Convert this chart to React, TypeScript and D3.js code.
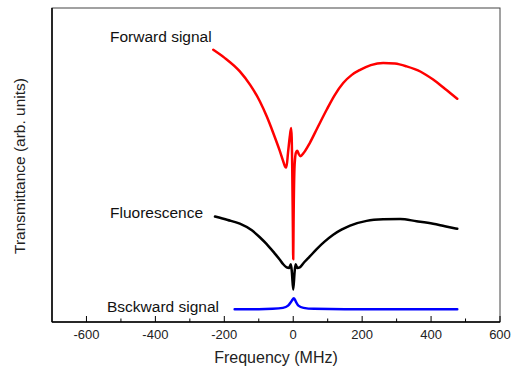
import React from 'react';
import * as d3 from 'd3';

// Frequency (MHz) / transmittance (arb. units)
const forwardFreq = [-232, -200, -155, -125, -97, -77, -58, -40, -30, -24, -20, -15, -10, -6, -3, -1, 0, 1, 4, 8, 12, 16, 21, 30, 48, 70, 97, 120, 145, 170, 194, 225, 261, 295, 329, 370, 406, 440, 476];
const forwardVal = [8.67, 8.42, 7.98, 7.55, 7.03, 6.55, 6.02, 5.48, 5.15, 4.96, 4.92, 5.4, 5.9, 6.18, 5.0, 3.0, 2.0, 3.2, 5.0, 5.4, 5.45, 5.35, 5.28, 5.38, 5.7, 6.18, 6.76, 7.22, 7.61, 7.87, 8.03, 8.18, 8.25, 8.23, 8.14, 7.97, 7.72, 7.43, 7.11];

const fluorFreq = [-227, -190, -155, -120, -97, -77, -55, -40, -29, -19, -12, -7, -4, 0, 4, 7, 12, 19, 30, 45, 68, 90, 116, 140, 165, 213, 261, 310, 358, 406, 440, 476];
const fluorVal = [3.36, 3.25, 3.13, 2.92, 2.7, 2.48, 2.2, 2.0, 1.84, 1.74, 1.72, 1.84, 1.6, 1.03, 1.6, 1.84, 1.72, 1.74, 1.88, 2.05, 2.32, 2.55, 2.78, 2.94, 3.07, 3.22, 3.27, 3.28, 3.21, 3.13, 3.05, 2.97];

const backFreq = [-170, -100, -60, -30, -15, -5, 2, 8, 15, 30, 60, 150, 300, 476];
const backVal = [0.41, 0.41, 0.42, 0.45, 0.52, 0.66, 0.76, 0.64, 0.52, 0.45, 0.42, 0.41, 0.41, 0.41];

const majorTicks = [-600, -400, -200, 0, 200, 400, 600];
const minorTicks = [-500, -300, -100, 100, 300, 500];

const series = [
  { name: 'Forward signal', color: '#ff0000', freq: forwardFreq, val: forwardVal, lx: 110, ly: 42 },
  { name: 'Fluorescence', color: '#000000', freq: fluorFreq, val: fluorVal, lx: 110, ly: 218 },
  { name: 'Bsckward signal', color: '#0000ff', freq: backFreq, val: backVal, lx: 107, ly: 312 },
];

const W = 514;
const H = 369;
const m = { left: 52, right: 14, top: 8, bottom: 47 };
const font = 'Liberation Sans, Arial, sans-serif';

const App: React.FC = () => {
  const x = d3.scaleLinear().domain([-700, 600]).range([m.left, W - m.right]);
  const y = d3.scaleLinear().domain([0, 10]).range([H - m.bottom, m.top]);
  const bottom = H - m.bottom;

  const line = d3.line<[number, number]>()
    .x(d => x(d[0]))
    .y(d => y(d[1]))
    .curve(d3.curveMonotoneX);

  return (
    <div style={{ position: 'fixed', left: 0, top: 0 }}>
      <svg width={W} height={H} style={{ display: 'block', background: '#fff' }}>
        <rect x={m.left} y={m.top} width={W - m.left - m.right} height={bottom - m.top}
          fill="none" stroke="#444" strokeWidth={1} />
        <line x1={m.left} x2={W - m.right} y1={bottom} y2={bottom} stroke="#000" strokeWidth={1.5} />
        <line x1={m.left} x2={m.left} y1={m.top} y2={bottom} stroke="#000" strokeWidth={1.5} />

        {majorTicks.map(t => (
          <g key={'M' + t}>
            <line x1={x(t)} x2={x(t)} y1={bottom} y2={bottom - 6} stroke="#000" strokeWidth={1} />
            <text x={x(t)} y={339} textAnchor="middle" fontFamily={font} fontSize={13} fill="#222">{t}</text>
          </g>
        ))}
        {minorTicks.map(t => (
          <line key={'m' + t} x1={x(t)} x2={x(t)} y1={bottom} y2={bottom - 3.5} stroke="#000" strokeWidth={1} />
        ))}

        {series.map(s => (
          <g key={s.name}>
            <path d={line(s.freq.map((f, i) => [f, s.val[i]] as [number, number])) || ''}
              fill="none" stroke={s.color} strokeWidth={2.5} strokeLinejoin="round" strokeLinecap="round" />
            <text x={s.lx} y={s.ly} fontFamily={font} fontSize={15.5} fill="#111">{s.name}</text>
          </g>
        ))}

        <text x={276} y={363} textAnchor="middle" fontFamily={font} fontSize={16} fill="#222">Frequency (MHz)</text>
        <text transform={`translate(25,166) rotate(-90)`} textAnchor="middle" fontFamily={font} fontSize={15.5} fill="#222">
          Transmittance (arb. units)
        </text>
      </svg>
    </div>
  );
};

export default App;
